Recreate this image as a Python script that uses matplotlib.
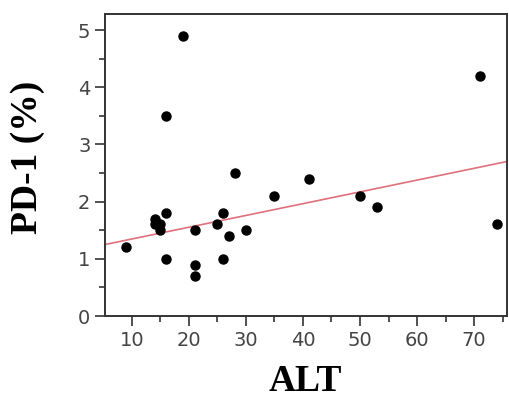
import numpy as np
import matplotlib.pyplot as plt
from matplotlib.ticker import MultipleLocator

# valores
alt = [9, 14, 14, 15, 15, 16, 16, 16, 19, 21, 21, 21, 25, 26, 26, 27, 28, 30, 35, 41, 50, 53, 71, 74]
pd1 = [1.2, 1.7, 1.6, 1.6, 1.5, 1.8, 1.0, 3.5, 4.9, 1.5, 0.9, 0.7, 1.6, 1.8, 1.0, 1.4, 2.5, 1.5, 2.1, 2.4, 2.1, 1.9, 4.2, 1.6]

# reta de regressao
fit_intercept = 1.14
fit_slope = 0.0206

x_lim = (5.3, 75.7)
y_lim = (0, 5.28)

fig = plt.figure(figsize=(5.09, 4.0), dpi=100)
ax = fig.add_axes([0.2063, 0.21, 0.789, 0.755])

xs = np.array(x_lim)
ax.plot(xs, fit_intercept + fit_slope * xs, color="#e0707c", lw=1.2, zorder=2)
ax.plot(alt, pd1, "o", color="black", ms=6.5, zorder=3)

ax.set_xlim(*x_lim)
ax.set_ylim(*y_lim)
ax.xaxis.set_major_locator(MultipleLocator(10))
ax.xaxis.set_minor_locator(MultipleLocator(5))
ax.yaxis.set_major_locator(MultipleLocator(1))
ax.yaxis.set_minor_locator(MultipleLocator(0.5))

for s in ax.spines.values():
    s.set_color("#333333")
    s.set_linewidth(1.4)

ax.tick_params(which="major", length=7, width=1.2, color="#333333",
               labelsize=14, labelcolor="#444444")
ax.tick_params(which="minor", length=4, width=1.2, color="#333333")

ax.set_xlabel("ALT", fontsize=27, fontweight="bold", family="Liberation Serif")
ax.set_ylabel("PD-1 (%)", fontsize=27, fontweight="bold", family="Liberation Serif")
ax.xaxis.set_label_coords(0.5, -0.158)
ax.yaxis.set_label_coords(-0.15, 0.525)

fig.savefig("out.png", dpi=100)
